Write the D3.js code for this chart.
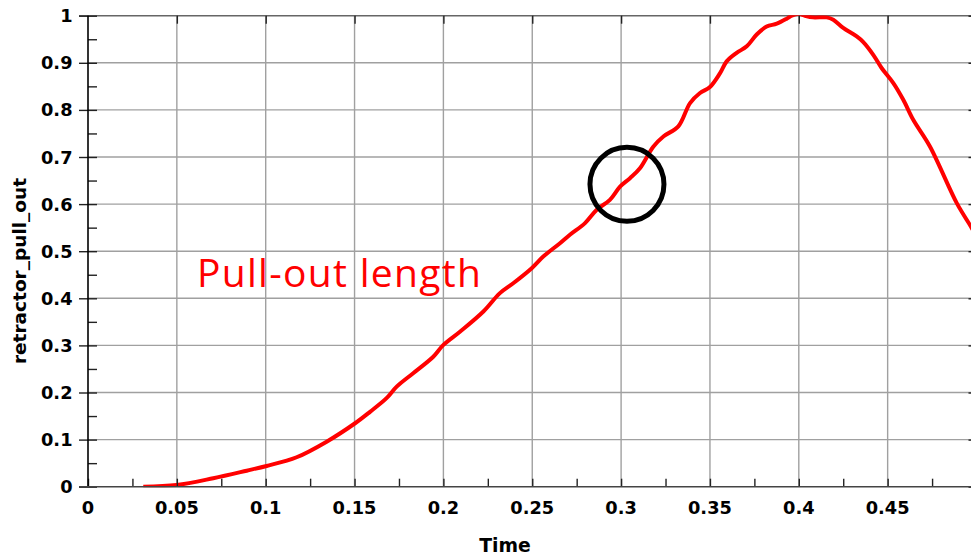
<!DOCTYPE html>
<html><head><meta charset="utf-8">
<script src="https://cdn.jsdelivr.net/npm/d3@7"></script>
<style>html,body{margin:0;padding:0;background:#fff;overflow:hidden}</style>
</head><body><svg id="c" width="971" height="555"></svg>
<script>
const time = [0.0311,0.0499,0.0705,0.0893,0.1005,0.1174,0.1343,0.1503,0.1587,0.168,0.1737,0.183,0.1943,0.2,0.2093,0.2225,0.2318,0.2393,0.2497,0.2562,0.2656,0.2712,0.2797,0.2863,0.2937,0.2994,0.305,0.3106,0.3181,0.3238,0.3322,0.3388,0.3444,0.35,0.3557,0.3594,0.365,0.3707,0.3763,0.3819,0.3876,0.3932,0.396,0.4,0.4035,0.408,0.4157,0.4194,0.425,0.4326,0.4363,0.4419,0.4466,0.4532,0.4588,0.4644,0.4738,0.4889,0.4969,0.5];
const pullOut = [0,0.0036,0.018,0.034,0.044,0.0625,0.0956,0.1347,0.159,0.188,0.2125,0.241,0.276,0.301,0.329,0.372,0.411,0.432,0.464,0.4886,0.517,0.535,0.5596,0.588,0.609,0.637,0.655,0.676,0.722,0.7436,0.765,0.8145,0.8358,0.8485,0.878,0.903,0.921,0.935,0.96,0.977,0.983,0.9936,1.0,1.004,1.0,0.9965,0.9965,0.9915,0.974,0.956,0.944,0.917,0.889,0.857,0.8215,0.779,0.7223,0.602,0.552,0.532];
const xTicks = [0,0.05,0.1,0.15,0.2,0.25,0.3,0.35,0.4,0.45];
const yTicks = [0,0.1,0.2,0.3,0.4,0.5,0.6,0.7,0.8,0.9,1];
const xLabel = "Time", yLabel = "retractor_pull_out", annotation = "Pull-out length";
const circleAt = [0.3033, 0.642];
const annotationAt = [0.0613, 0.424];

const svg = d3.select("#c");
const x = d3.scaleLinear().domain([0,0.5]).range([88,976.5]);
const y = d3.scaleLinear().domain([0,1]).range([486.7,15.7]);
const X0 = x(0), Y0 = y(0), Y1 = y(1), XR = x(0.5);

// gridlines
const g = svg.append("g");
g.selectAll(".vg").data(xTicks.slice(1)).join("line")
  .attr("x1",d=>x(d)).attr("x2",d=>x(d)).attr("y1",Y0).attr("y2",Y1)
  .attr("stroke","#a0a0a0").attr("stroke-width",1.4);
g.selectAll(".hg").data(yTicks.slice(1,-1)).join("line")
  .attr("x1",X0).attr("x2",XR).attr("y1",d=>y(d)).attr("y2",d=>y(d))
  .attr("stroke","#a0a0a0").attr("stroke-width",1.4);
// top border
g.append("line").attr("x1",79).attr("x2",XR).attr("y1",Y1).attr("y2",Y1).attr("stroke","#666").attr("stroke-width",1.5);

// annotation text
svg.append("text").attr("x",x(annotationAt[0])).attr("y",y(annotationAt[1]))
  .attr("fill","#ff0000").attr("font-family","'Open Sans', 'Noto Sans', sans-serif")
  .attr("font-size",39).attr("letter-spacing",1.3).text(annotation);

// curve
svg.append("clipPath").attr("id","clip").append("rect")
  .attr("x",X0).attr("y",Y1-0.5).attr("width",XR-X0).attr("height",Y0-Y1+1);
const line = d3.line().x((d,i)=>x(time[i])).y(d=>y(d)).curve(d3.curveCatmullRom);
svg.append("path").datum(pullOut).attr("d",line).attr("clip-path","url(#clip)")
  .attr("fill","none").attr("stroke","#ff0000").attr("stroke-width",4).attr("stroke-linejoin","round");

// circle
svg.append("circle").attr("cx",x(circleAt[0])).attr("cy",y(circleAt[1])).attr("r",37)
  .attr("fill","none").attr("stroke","#000").attr("stroke-width",5);

// axes
svg.append("g").attr("transform",`translate(0,${Y0})`)
  .call(d3.axisBottom(x).tickValues(d3.range(0,0.5001,0.025)).tickSize(-8).tickFormat(""));
svg.append("g").attr("transform",`translate(${X0},0)`)
  .call(d3.axisLeft(y).tickValues(d3.range(0,1.0001,0.05)).tickSize(-9).tickFormat(""));
svg.append("g").attr("transform",`translate(${X0},0)`)
  .call(d3.axisLeft(y).tickValues(yTicks).tickSize(9).tickFormat(""));
svg.append("g").attr("transform",`translate(0,${Y1})`)
  .call(d3.axisTop(x).tickValues(xTicks.slice(1)).tickSize(-8).tickFormat(""));
svg.append("g").attr("transform",`translate(${XR},0)`)
  .call(d3.axisRight(y).tickValues(yTicks).tickSize(-8).tickFormat(""));
svg.selectAll(".domain").remove();
svg.selectAll(".tick line").attr("stroke","#222").attr("stroke-width",1.4);
svg.append("line").attr("x1",X0).attr("x2",X0).attr("y1",Y1).attr("y2",Y0).attr("stroke","#000").attr("stroke-width",1.6);
svg.append("line").attr("x1",79).attr("x2",XR).attr("y1",Y0).attr("y2",Y0).attr("stroke","#444").attr("stroke-width",1.6);

// tick labels
const f = d3.format("");
svg.selectAll(".xl").data(xTicks).join("text")
  .attr("x",d=>x(d)).attr("y",513.5).attr("text-anchor","middle")
  .attr("font-family","'DejaVu Sans', sans-serif").attr("font-weight","bold").attr("font-size",17.8)
  .text(d=>f(d));
svg.selectAll(".yl").data(yTicks).join("text")
  .attr("x",72.5).attr("y",d=>y(d)+6.5).attr("text-anchor","end")
  .attr("font-family","'DejaVu Sans', sans-serif").attr("font-weight","bold").attr("font-size",17.8)
  .text(d=>f(d));
svg.append("text").attr("x",505).attr("y",551.5).attr("text-anchor","middle")
  .attr("font-family","'DejaVu Sans', sans-serif").attr("font-weight","bold").attr("font-size",18.8).text(xLabel);
svg.append("text").attr("transform","translate(26,271) rotate(-90)").attr("text-anchor","middle")
  .attr("font-family","'DejaVu Sans', sans-serif").attr("font-weight","bold").attr("font-size",18.5).text(yLabel);
</script></body></html>
